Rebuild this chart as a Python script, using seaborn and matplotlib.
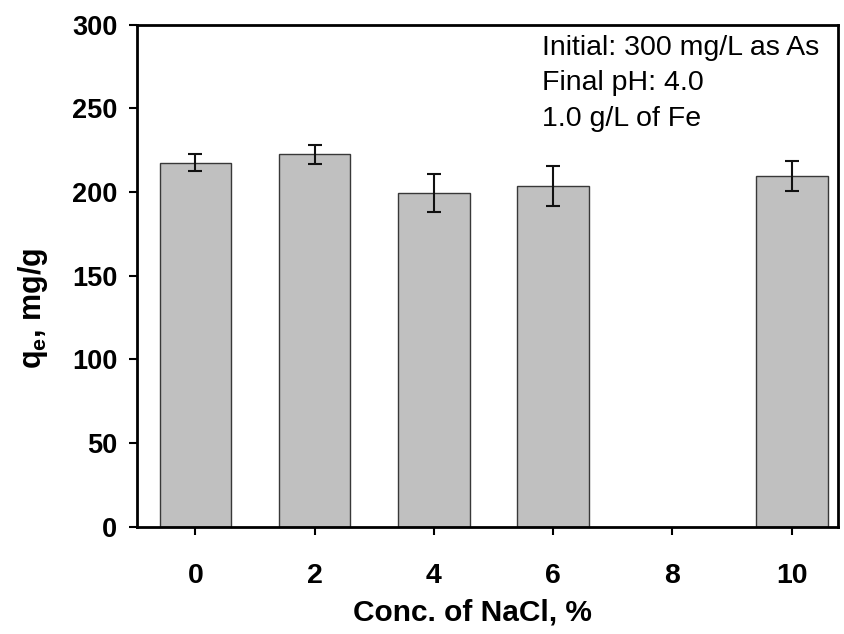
import matplotlib
matplotlib.use("Agg")
import matplotlib.pyplot as plt
import seaborn as sns
import pandas as pd

conc = [0, 2, 4, 6, 10]
qe = [217.6, 222.6, 199.5, 203.4, 209.7]
err = [4.9, 5.8, 11.4, 11.9, 9.1]
xticks = [0, 2, 4, 6, 8, 10]
yticks = [0, 50, 100, 150, 200, 250, 300]
notes = ["Initial: 300 mg/L as As", "Final pH: 4.0", "1.0 g/L of Fe"]

sns.set_style("ticks")
plt.rcParams['font.family'] = ['Liberation Sans', 'DejaVu Sans']
plt.rcParams['mathtext.fontset'] = 'custom'
plt.rcParams['mathtext.rm'] = 'Liberation Sans:bold'
plt.rcParams['mathtext.bf'] = 'Liberation Sans:bold'
plt.rcParams['mathtext.it'] = 'Liberation Sans:bold'
for k in ['text.color', 'axes.labelcolor', 'xtick.color', 'ytick.color', 'axes.edgecolor']:
    plt.rcParams[k] = 'black'

df = pd.DataFrame({"conc": conc, "qe": qe})

fig = plt.figure(figsize=(8.45, 6.34), dpi=100)
ax = fig.add_axes([0.162, 0.169, 0.830, 0.792])

sns.barplot(data=df, x="conc", y="qe", native_scale=True, width=0.6,
            color="#c0c0c0", edgecolor="#383838", linewidth=1.0,
            errorbar=None, saturation=1, ax=ax)
ax.errorbar(conc, qe, yerr=err, fmt='none', ecolor='#111111',
            elinewidth=1.5, capsize=5, capthick=1.5, zorder=5)

ax.set_xlim(-0.98, 10.78)
ax.set_ylim(0, 300)
ax.set_xticks(xticks)
ax.set_yticks(yticks)
ax.tick_params(axis='both', direction='out', length=6, width=1.5)
ax.tick_params(axis='y', labelsize=19.5, pad=8)
ax.tick_params(axis='x', labelsize=20.5, pad=20)
for lab in ax.get_yticklabels() + ax.get_xticklabels():
    lab.set_fontweight('bold')

for s in ax.spines.values():
    s.set_linewidth(2)
    s.set_visible(True)
    s.set_color('black')

ax.set_xlabel("Conc. of NaCl, %", fontsize=21.5, fontweight='bold')
ax.xaxis.set_label_coords(0.479, -0.142)
ax.set_ylabel(r"$q_e$, mg/g", fontsize=22, fontweight='bold')
ax.yaxis.set_label_coords(-0.124, 0.434)

ybase = [0.940, 0.8695, 0.799]
for t, yb in zip(notes, ybase):
    ax.text(0.578, yb, t, transform=ax.transAxes,
            fontsize=20.5, ha='left', va='baseline')

fig.savefig("out.png", dpi=100)
